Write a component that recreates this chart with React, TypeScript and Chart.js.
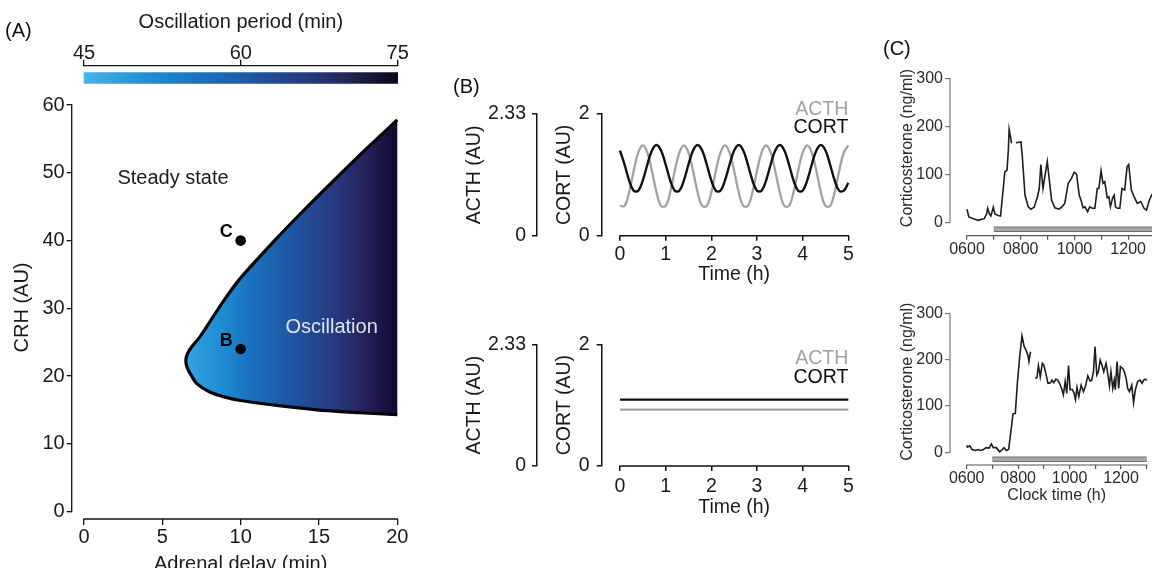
import React, { useEffect, useRef } from "react";
import { Chart, registerables } from "chart.js";

Chart.register(...registerables);

const FAMILY = '"Liberation Sans", Arial, Helvetica, sans-serif';
Chart.defaults.font.family = FAMILY;
Chart.defaults.color = "#1a1a1a";

// ================= (A) phase diagram =================
const periodTicks = [45, 60, 75];
const periodSpan = [45, 75];
const delayTicks = [0, 5, 10, 15, 20];
const crhTicks = [0, 10, 20, 30, 40, 50, 60];
// boundary of the oscillating region, upper branch (right -> tip) then lower branch (tip -> right)
const boundaryDelay = [20, 18, 16, 14, 12, 10, 9, 8, 7.4, 6.9, 6.6, 6.5, 6.58, 6.85, 7.2, 8.0, 9.0, 10.0, 11.2, 13.4, 15.5, 17.6, 20];
const boundaryCRH = [57.8, 53.5, 49.0, 44.4, 39.6, 34.5, 31.4, 27.9, 25.8, 24.4, 23.3, 22.3, 21.3, 20.1, 18.9, 17.7, 16.9, 16.4, 16.0, 15.4, 14.9, 14.6, 14.3];
const markerNames = ["B", "C"];
const markerDelay = [10, 10];
const markerCRH = [24, 40];

// ================= (B) simulated time courses =================
const timeHours = [0, 0.1, 0.2, 0.3, 0.4, 0.5, 0.6, 0.7, 0.8, 0.9, 1.0, 1.1, 1.2, 1.3, 1.4, 1.5, 1.6, 1.7, 1.8, 1.9, 2.0, 2.1, 2.2, 2.3, 2.4, 2.5, 2.6, 2.7, 2.8, 2.9, 3.0, 3.1, 3.2, 3.3, 3.4, 3.5, 3.6, 3.7, 3.8, 3.9, 4.0, 4.1, 4.2, 4.3, 4.4, 4.5, 4.6, 4.7, 4.8, 4.9, 5.0];
const acthOscillating = [0.57, 0.57, 0.83, 1.24, 1.59, 1.73, 1.59, 1.24, 0.83, 0.57, 0.57, 0.83, 1.24, 1.59, 1.73, 1.59, 1.24, 0.83, 0.57, 0.57, 0.83, 1.24, 1.59, 1.73, 1.59, 1.24, 0.83, 0.57, 0.57, 0.83, 1.24, 1.59, 1.73, 1.59, 1.24, 0.83, 0.57, 0.57, 0.83, 1.24, 1.59, 1.73, 1.59, 1.24, 0.83, 0.57, 0.57, 0.83, 1.24, 1.59, 1.73];
const cortOscillating = [1.40, 1.17, 0.91, 0.74, 0.74, 0.91, 1.17, 1.40, 1.49, 1.40, 1.17, 0.91, 0.74, 0.74, 0.91, 1.17, 1.40, 1.49, 1.40, 1.17, 0.91, 0.74, 0.74, 0.91, 1.17, 1.40, 1.49, 1.40, 1.17, 0.91, 0.74, 0.74, 0.91, 1.17, 1.40, 1.49, 1.40, 1.17, 0.91, 0.74, 0.74, 0.91, 1.17, 1.40, 1.49, 1.40, 1.17, 0.91, 0.74, 0.74, 0.87];
const steadyHours = [0, 1, 2, 3, 4, 5];
const acthSteady = [1.08, 1.08, 1.08, 1.08, 1.08, 1.08];
const cortSteady = [1.09, 1.09, 1.09, 1.09, 1.09, 1.09];
const timeTicks = [0, 1, 2, 3, 4, 5];
const acthTicks = [0, 2.33];
const cortTicks = [0, 2];

// ================= (C) measured corticosterone =================
const clockHoursTop = [6.00, 6.07, 6.24, 6.42, 6.55, 6.64, 6.73, 6.77, 6.83, 6.89, 6.98, 7.04, 7.16, 7.25, 7.35, 7.41, 7.49, 7.54, 7.57, 7.62, 7.66, 7.74, 7.82, 8.01, 8.06, 8.16, 8.28, 8.38, 8.50, 8.63, 8.69, 8.75, 8.83, 8.90, 8.99, 9.05, 9.15, 9.27, 9.42, 9.54, 9.64, 9.77, 9.89, 9.99, 10.08, 10.18, 10.26, 10.32, 10.39, 10.49, 10.57, 10.66, 10.76, 10.85, 10.91, 10.99, 11.06, 11.13, 11.22, 11.28, 11.34, 11.42, 11.48, 11.53, 11.60, 11.69, 11.77, 11.87, 11.96, 12.02, 12.12, 12.22, 12.34, 12.47, 12.59, 12.68, 12.78, 12.87, 12.95];
const corticosteroneTop = [28, 12, 8, 5, 7, 8, 18, 30, 19, 14, 32, 18, 15, 14, 71, 106, 109, 151, 194, 179, 165, null, 166, 168, 137, 57, 33, 28, 32, 55, 71, 121, 71, 96, 127, 96, 47, 31, 28, 33, 40, 82, 92, 105, 101, 57, 44, 31, 33, 23, 33, 30, 30, 71, 71, 108, 82, 85, 52, 54, 33, 51, 57, 33, 30, 30, 71, 68, 116, 121, 68, 54, 40, 44, 30, 26, 45, 57, 62];
const clockHoursBottom = [6.00, 6.03, 6.12, 6.21, 6.34, 6.44, 6.54, 6.65, 6.76, 6.87, 6.96, 7.03, 7.15, 7.28, 7.37, 7.45, 7.54, 7.63, 7.71, 7.80, 7.89, 7.97, 8.06, 8.15, 8.23, 8.30, 8.38, 8.42, 8.48, 8.57, 8.66, 8.73, 8.79, 8.86, 8.94, 9.00, 9.09, 9.16, 9.26, 9.32, 9.39, 9.47, 9.54, 9.61, 9.70, 9.76, 9.83, 9.89, 9.96, 10.02, 10.10, 10.17, 10.23, 10.29, 10.36, 10.45, 10.54, 10.62, 10.71, 10.80, 10.86, 10.93, 10.99, 11.06, 11.12, 11.19, 11.26, 11.33, 11.42, 11.49, 11.55, 11.61, 11.68, 11.74, 11.78, 11.85, 11.91, 11.98, 12.07, 12.13, 12.20, 12.26, 12.33, 12.42, 12.49, 12.56, 12.65, 12.74, 12.82, 12.88, 12.95, 13.01];
const corticosteroneBottom = [15, 11, 14, 6, 4, 6, 4, 6, 10, 9, 18, 10, 10, 1, 5, 10, 4, 6, 41, 83, 84, 149, 206, 251, 229, 221, 210, 196, 217, null, 160, 161, 187, 163, 192, 188, 167, 149, 150, 156, 150, 158, 156, 149, 136, 124, 153, 127, 187, 135, 136, 129, 114, 140, 120, 145, 131, 143, 165, 154, 155, 174, 228, 167, 174, 199, 188, 174, 192, 169, 143, 174, 138, 156, 135, 196, 138, 185, 181, 174, 160, 138, 131, 145, 107, 135, 153, 156, 149, 156, 158, 155];
const clockTicks = [6, 7, 8, 9, 10, 11, 12, 13];
const clockLabels = ["0600", "", "0800", "", "1000", "", "1200", ""];
const corticoTicks = [0, 100, 200, 300];
const treatmentHours = [7, 13];

// ================= helpers =================
const TXT = "#1a1a1a";
const fixTicks = (values: number[]) => (scale: any) => {
  scale.ticks = values.map((v) => ({ value: v }));
};
const plainLabel = (v: any) => String(v);

type Spine = { scale: string; from: number; to: number; color: string; width: number };
function spinePlugin(list: Spine[]) {
  return {
    id: "spines",
    afterDraw(chart: any) {
      const { ctx, chartArea } = chart;
      ctx.save();
      for (const s of list) {
        const sc = chart.scales[s.scale];
        const a = sc.getPixelForValue(s.from);
        const b = sc.getPixelForValue(s.to);
        ctx.beginPath();
        ctx.strokeStyle = s.color;
        ctx.lineWidth = s.width;
        ctx.lineCap = "butt";
        if (sc.isHorizontal()) {
          const y = sc.position === "top" ? chartArea.top : chartArea.bottom;
          ctx.moveTo(Math.min(a, b) - s.width / 2, y);
          ctx.lineTo(Math.max(a, b) + s.width / 2, y);
        } else {
          const x = chartArea.left;
          ctx.moveTo(x, Math.max(a, b) + s.width / 2);
          ctx.lineTo(x, Math.min(a, b) - s.width / 2);
        }
        ctx.stroke();
      }
      ctx.restore();
    },
  };
}

type Note = {
  text: string; x: number; y?: number; top?: number; xScale?: string; yScale?: string;
  font: string; color: string; align?: CanvasTextAlign; baseline?: CanvasTextBaseline;
};
function notePlugin(list: Note[]) {
  return {
    id: "notes",
    afterDatasetsDraw(chart: any) {
      const { ctx, chartArea } = chart;
      for (const n of list) {
        const px = chart.scales[n.xScale || "x"].getPixelForValue(n.x);
        const py = n.top !== undefined ? chartArea.top + n.top : chart.scales[n.yScale || "y"].getPixelForValue(n.y);
        ctx.save();
        ctx.font = n.font;
        ctx.fillStyle = n.color;
        ctx.textAlign = n.align || "center";
        ctx.textBaseline = n.baseline || "middle";
        ctx.fillText(n.text, px, py);
        ctx.restore();
      }
    },
  };
}

const base = (padding: any) => ({
  responsive: false,
  animation: false,
  devicePixelRatio: 1,
  events: [],
  layout: { padding },
  plugins: { legend: { display: false }, tooltip: { enabled: false } },
});

function regionFill(chart: any) {
  const { ctx, chartArea, scales } = chart;
  if (!chartArea || !scales.x) return "#1f62ae";
  const g = ctx.createLinearGradient(scales.x.getPixelForValue(6.5), 0, scales.x.getPixelForValue(20), 0);
  g.addColorStop(0, "#33a5e0");
  g.addColorStop(0.15, "#208fd3");
  g.addColorStop(0.3, "#1a72c0");
  g.addColorStop(0.5, "#1f55a2");
  g.addColorStop(0.7, "#283a80");
  g.addColorStop(0.86, "#241f57");
  g.addColorStop(1, "#0f0a2e");
  return g;
}

function periodFill(chart: any) {
  const { ctx, chartArea, scales } = chart;
  if (!chartArea || !scales.x) return "#1f62ae";
  const g = ctx.createLinearGradient(scales.x.getPixelForValue(45), 0, scales.x.getPixelForValue(75), 0);
  g.addColorStop(0, "#45b5ea");
  g.addColorStop(0.2, "#1f8fd3");
  g.addColorStop(0.4, "#1b6cb9");
  g.addColorStop(0.55, "#1f549f");
  g.addColorStop(0.7, "#263d80");
  g.addColorStop(0.85, "#22244f");
  g.addColorStop(1, "#07061a");
  return g;
}

// ================= chart builders =================
function buildColorbar() {
  return {
    type: "bar",
    data: {
      labels: ["period"],
      datasets: [{ label: "Oscillation period", data: [periodSpan], backgroundColor: (c: any) => periodFill(c.chart), borderWidth: 0, barThickness: 10.6 }],
    },
    options: {
      ...base({ top: 0, left: 72, right: 10.3, bottom: 4.7 }),
      indexAxis: "y",
      scales: {
        x: {
          type: "linear", position: "top", min: 43.85, max: 76.15,
          afterBuildTicks: fixTicks(periodTicks),
          afterFit: (s: any) => { s.height = 65.7; },
          grid: { drawOnChartArea: false, tickLength: 6, color: "#111", lineWidth: 1.3 },
          border: { display: false },
          ticks: { font: { size: 20 }, color: TXT, padding: -6, autoSkip: false, maxRotation: 0, callback: plainLabel },
          title: { display: true, text: "Oscillation period (min)", font: { size: 20 }, color: TXT, padding: { top: 10, bottom: 0 } },
        },
        y: { type: "category", display: false },
      },
    },
    plugins: [spinePlugin([{ scale: "x", from: 45, to: 75, color: "#111", width: 1.3 }])],
  };
}

function buildA() {
  const region = boundaryDelay.map((x, i) => ({ x, y: boundaryCRH[i] }));
  const markers = markerDelay.map((x, i) => ({ x, y: markerCRH[i] }));
  const notes: Note[] = [
    { text: "Steady state", x: 5.68, y: 49.2, font: `20px ${FAMILY}`, color: TXT },
    { text: "Oscillation", x: 15.81, y: 27.2, font: `20px ${FAMILY}`, color: "#dde4ef" },
    ...markerNames.map((n, i) => ({ text: n, x: markerDelay[i] - 0.5, y: markerCRH[i] + 1.2, font: `bold 18px ${FAMILY}`, color: "#000", align: "right" as CanvasTextAlign })),
  ];
  return {
    type: "line",
    data: {
      datasets: [
        { label: "Oscillation region", data: region, order: 2, borderColor: "#050505", borderWidth: 3.2, tension: 0.3, pointRadius: 0, fill: "shape", backgroundColor: (c: any) => regionFill(c.chart) },
        { label: "Parameter sets", data: markers, order: 1, showLine: false, pointRadius: 5.3, pointBackgroundColor: "#000", pointBorderWidth: 0, borderColor: "#000" },
      ],
    },
    options: {
      ...base({ top: 96, right: 10.4, left: 0, bottom: 0 }),
      scales: {
        x: {
          type: "linear", position: "bottom", min: -0.785, max: 20.785,
          afterBuildTicks: fixTicks(delayTicks),
          afterFit: (s: any) => { s.height = 81; },
          grid: { drawOnChartArea: false, tickLength: 6, color: "#111", lineWidth: 1.3 },
          border: { display: false },
          ticks: { font: { size: 20 }, color: TXT, padding: 0, autoSkip: false, maxRotation: 0, callback: plainLabel },
          title: { display: true, text: "Adrenal delay (min)", font: { size: 20 }, color: TXT, padding: { top: 0, bottom: 24 } },
        },
        y: {
          type: "linear", position: "left", min: -1.077, max: 61.33,
          afterBuildTicks: fixTicks(crhTicks),
          afterFit: (s: any) => { s.width = 71.7; },
          grid: { drawOnChartArea: false, tickLength: 5, color: "#111", lineWidth: 1.3 },
          border: { display: false },
          ticks: { font: { size: 20 }, color: TXT, padding: 2, callback: plainLabel },
          title: { display: true, text: "CRH (AU)", font: { size: 20 }, color: TXT, padding: { top: 10, bottom: 0 } },
        },
      },
    },
    plugins: [
      spinePlugin([
        { scale: "x", from: 0, to: 20, color: "#111", width: 1.3 },
        { scale: "y", from: 0, to: 60, color: "#111", width: 1.3 },
      ]),
      notePlugin(notes),
    ],
  };
}

function buildB(p: { hours: number[]; acth: number[]; cort: number[]; padTop: number; axisH: number; tickPad: number; titlePad: number; legendTops: number[] }) {
  const yAxis = (max: number, ticks: number[], width: number, pad: number, title: string, titlePad: number, weight: number) => ({
    type: "linear", position: "left", weight, min: 0, max,
    afterBuildTicks: fixTicks(ticks),
    afterFit: (s: any) => { s.width = width; },
    grid: { drawOnChartArea: false, tickLength: 5, color: "#111", lineWidth: 1.5 },
    border: { display: true, color: "#111", width: 1.5 },
    ticks: { font: { size: 19.5 }, color: TXT, padding: pad, callback: plainLabel },
    title: { display: true, text: title, font: { size: 19.5 }, color: TXT, padding: { top: titlePad, bottom: 0 } },
  });
  const acthColor = "#a2a2a2";
  const cortColor = "#111111";
  return {
    type: "line",
    data: {
      datasets: [
        { label: "CORT", yAxisID: "yC", data: p.hours.map((x, i) => ({ x, y: p.cort[i] })), borderColor: cortColor, borderWidth: 2.4, tension: 0.4, pointRadius: 0, fill: false },
        { label: "ACTH", yAxisID: "yA", data: p.hours.map((x, i) => ({ x, y: p.acth[i] })), borderColor: acthColor, borderWidth: 2.3, tension: 0.4, pointRadius: 0, fill: false },
      ],
    },
    options: {
      ...base({ top: p.padTop, right: 13.4, left: 0, bottom: 0 }),
      scales: {
        x: {
          type: "linear", position: "bottom", min: -0.4, max: 5.4,
          afterBuildTicks: fixTicks(timeTicks),
          afterFit: (s: any) => { s.height = p.axisH; },
          grid: { drawOnChartArea: false, tickLength: 5, color: "#111", lineWidth: 1.5 },
          border: { display: false },
          ticks: { font: { size: 19.5 }, color: TXT, padding: p.tickPad, autoSkip: false, maxRotation: 0, callback: plainLabel },
          title: { display: true, text: "Time (h)", font: { size: 19.5 }, color: TXT, padding: { top: 0, bottom: p.titlePad } },
        },
        yC: yAxis(2, cortTicks, 64.7, 7, "CORT (AU)", 16.3, 0),
        yA: yAxis(2.33, acthTicks, 97, 6, "ACTH (AU)", 22.5, 1),
      },
    },
    plugins: [
      spinePlugin([{ scale: "x", from: 0, to: 5, color: "#111", width: 1.5 }]),
      notePlugin([
        { text: "ACTH", x: 5, top: p.legendTops[0], font: `19.5px ${FAMILY}`, color: acthColor, align: "right", baseline: "alphabetic" },
        { text: "CORT", x: 5, top: p.legendTops[1], font: `19.5px ${FAMILY}`, color: cortColor, align: "right", baseline: "alphabetic" },
      ]),
    ],
  };
}

function buildC(p: { hours: number[]; values: (number | null)[]; padTop: number; padRight: number; yMin: number; yMax: number; xMin: number; xMax: number; axisH: number; xTitle: string | null; titlePad: number; barY: number }) {
  const gridCol = "#7a7a7a";
  return {
    type: "line",
    data: {
      datasets: [
        { label: "Corticosterone", data: p.hours.map((x, i) => ({ x, y: p.values[i] })), borderColor: "#1e1e1e", borderWidth: 1.6, tension: 0, pointRadius: 0, spanGaps: false, fill: false },
        { label: "Treatment (inner)", data: treatmentHours.map((x) => ({ x, y: p.barY })), borderColor: "#a3a8ad", borderWidth: 3.4, borderCapStyle: "butt", pointRadius: 0, fill: false },
        { label: "Treatment (outer)", data: treatmentHours.map((x) => ({ x, y: p.barY })), borderColor: "#6b7075", borderWidth: 5.6, borderCapStyle: "butt", pointRadius: 0, fill: false },
      ],
    },
    options: {
      ...base({ top: p.padTop, right: p.padRight, left: 0, bottom: 0 }),
      scales: {
        x: {
          type: "linear", position: "bottom", min: p.xMin, max: p.xMax,
          afterBuildTicks: fixTicks(clockTicks),
          afterFit: (s: any) => { s.height = p.axisH; },
          grid: { drawOnChartArea: false, tickLength: 4, color: "#555", lineWidth: 1.2 },
          border: { display: false },
          ticks: { font: { size: 16 }, color: "#2a2a2a", padding: 0, autoSkip: false, maxRotation: 0, callback: (_v: any, i: number) => clockLabels[i] },
          title: { display: !!p.xTitle, text: p.xTitle || "", font: { size: 16 }, color: "#2a2a2a", padding: { top: 0, bottom: p.titlePad } },
        },
        y: {
          type: "linear", position: "left", min: p.yMin, max: p.yMax,
          afterBuildTicks: fixTicks(corticoTicks),
          afterFit: (s: any) => { s.width = 80; },
          grid: { drawOnChartArea: false, tickLength: 5, color: gridCol, lineWidth: 1.2 },
          border: { display: false },
          ticks: { font: { size: 16 }, color: "#2a2a2a", padding: 2, callback: plainLabel },
          title: { display: true, text: "Corticosterone (ng/ml)", font: { size: 16 }, color: "#2a2a2a", padding: { top: 28.2, bottom: 0 } },
        },
      },
    },
    plugins: [
      spinePlugin([
        { scale: "x", from: 6, to: 13, color: "#555", width: 1.2 },
        { scale: "y", from: 0, to: 300, color: gridCol, width: 1.2 },
      ]),
    ],
  };
}

// ================= components =================
function ChartBox(props: { left: number; top: number; width: number; height: number; build: () => any }) {
  const ref = useRef<HTMLCanvasElement | null>(null);
  useEffect(() => {
    if (!ref.current) return;
    const chart = new Chart(ref.current, props.build());
    return () => chart.destroy();
  }, []);
  return (
    <canvas
      ref={ref}
      width={props.width}
      height={props.height}
      style={{ position: "absolute", left: props.left, top: props.top, width: props.width, height: props.height }}
    />
  );
}

const panelLabel = (text: string, left: number, top: number) => (
  <div style={{ position: "absolute", left, top, fontFamily: FAMILY, fontSize: 20, lineHeight: "20px", color: "#111", whiteSpace: "nowrap" }}>{text}</div>
);

export default function App() {
  return (
    <div style={{ position: "fixed", left: 0, top: 0, width: 1152, height: 568, overflow: "hidden", background: "#fff" }}>
      <ChartBox left={0} top={0} width={420} height={600} build={buildA} />
      <ChartBox left={0} top={0} width={420} height={95} build={buildColorbar} />
      <ChartBox
        left={440} top={70} width={440} height={230}
        build={() => buildB({ hours: timeHours, acth: acthOscillating, cort: cortOscillating, padTop: 44, axisH: 64.3, tickPad: 2.5, titlePad: 14.1, legendTops: [1, 19.3] })}
      />
      <ChartBox
        left={440} top={300} width={440} height={268}
        build={() => buildB({ hours: steadyHours, acth: acthSteady, cort: cortSteady, padTop: 44.3, axisH: 102, tickPad: 3.8, titlePad: 49.1, legendTops: [19.2, 39] })}
      />
      <ChartBox
        left={870} top={30} width={320} height={240}
        build={() => buildC({ hours: clockHoursTop, values: corticosteroneTop, padTop: 30.3, padRight: 18, yMin: -27.0, yMax: 337.4, xMin: 5.368, xMax: 13.632, axisH: 34.3, xTitle: null, titlePad: 0, barY: -13.5 })}
      />
      <ChartBox
        left={870} top={280} width={320} height={288}
        build={() => buildC({ hours: clockHoursBottom, values: corticosteroneBottom, padTop: 18.4, padRight: 26.6, yMin: -27.4, yMax: 332.2, xMin: 5.35, xMax: 13.65, axisH: 103, xTitle: "Clock time (h)", titlePad: 62.4, barY: -14.9 })}
      />
      {panelLabel("(A)", 5, 20)}
      {panelLabel("(B)", 453, 76)}
      {panelLabel("(C)", 883, 38)}
    </div>
  );
}
